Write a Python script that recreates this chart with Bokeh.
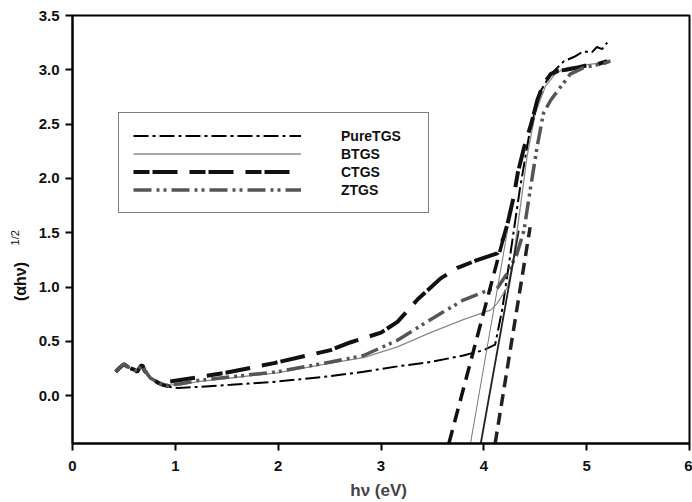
from bokeh.plotting import figure
from bokeh.models import Legend, LegendItem, LinearAxis, FixedTicker, NumeralTickFormatter
from bokeh.embed import file_html
from bokeh.resources import INLINE

FONT = "Liberation Sans"

# shared noisy start of all spectra
start_x = [0.42, 0.45, 0.50, 0.53, 0.57, 0.60, 0.63, 0.66, 0.68, 0.70, 0.72, 0.76, 0.80, 0.83, 0.88, 0.93]
start_y = [0.22, 0.25, 0.29, 0.27, 0.25, 0.24, 0.22, 0.27, 0.28, 0.23, 0.21, 0.16, 0.14, 0.12, 0.10, 0.09]

pure_x = [0.95, 1.03, 1.20, 1.54, 1.99, 2.51, 2.83, 3.16, 3.48, 3.80, 4.00, 4.11, 4.18, 4.25, 4.35, 4.45,
          4.55, 4.65, 4.78, 4.88, 4.97, 5.05, 5.10, 5.15, 5.20]
pure_y = [0.08, 0.07, 0.08, 0.10, 0.13, 0.18, 0.22, 0.27, 0.31, 0.37, 0.42, 0.47, 0.80, 1.25, 1.90, 2.45,
          2.80, 2.96, 3.08, 3.12, 3.17, 3.16, 3.21, 3.19, 3.25]

btgs_x = [0.95, 1.05, 1.22, 1.60, 1.99, 2.51, 2.83, 3.16, 3.48, 3.80, 4.07, 4.13, 4.23, 4.28, 4.35, 4.42,
          4.50, 4.60, 4.70, 4.81, 4.95, 5.10, 5.23]
btgs_y = [0.10, 0.10, 0.13, 0.17, 0.21, 0.30, 0.35, 0.45, 0.58, 0.70, 0.79, 0.85, 1.00, 1.22, 1.70, 2.20,
          2.60, 2.85, 2.97, 3.02, 3.04, 3.06, 3.09]

ctgs_x = [0.95, 1.22, 1.54, 1.96, 2.51, 2.70, 3.00, 3.16, 3.36, 3.58, 3.75, 3.94, 4.13, 4.19, 4.23, 4.29,
          4.33, 4.39, 4.46, 4.52, 4.58, 4.65, 4.72, 4.80, 4.91, 5.00, 5.10, 5.20]
ctgs_y = [0.13, 0.17, 0.22, 0.30, 0.42, 0.49, 0.58, 0.68, 0.89, 1.08, 1.18, 1.25, 1.31, 1.45, 1.58, 1.83,
          2.05, 2.28, 2.50, 2.72, 2.87, 2.96, 2.99, 3.00, 3.02, 3.04, 3.05, 3.08]

ztgs_x = [0.95, 1.05, 1.22, 1.60, 1.99, 2.51, 2.83, 3.16, 3.48, 3.80, 4.04, 4.13, 4.23, 4.32, 4.39, 4.45,
          4.52, 4.58, 4.65, 4.72, 4.84, 4.97, 5.17, 5.23]
ztgs_y = [0.10, 0.11, 0.14, 0.18, 0.22, 0.31, 0.37, 0.51, 0.70, 0.88, 0.97, 0.99, 1.13, 1.30, 1.52, 1.89,
          2.30, 2.60, 2.72, 2.81, 2.96, 3.02, 3.06, 3.08]

# extrapolated band-edge tangents
tan_c_x = [3.66, 4.19]
tan_c_y = [-0.44, 1.45]
tan_b_x = [3.87, 4.23]
tan_b_y = [-0.44, 1.52]
tan_p_x = [3.97, 4.34]
tan_p_y = [-0.44, 1.52]
tan_z_x = [4.11, 4.45]
tan_z_y = [-0.44, 1.55]

x_ticks = [0, 1, 2, 3, 4, 5, 6]
y_ticks = [0.0, 0.5, 1.0, 1.5, 2.0, 2.5, 3.0, 3.5]

EM = "\u2003"
EN = "\u2002"

p = figure(width=692, height=502, x_range=(0, 6), y_range=(-0.44, 3.5),
           output_backend="svg", toolbar_location=None,
           min_border_left=72, min_border_right=3, min_border_top=15, min_border_bottom=58)
p.xgrid.visible = False
p.ygrid.visible = False
p.outline_line_color = "black"
p.outline_line_width = 2
p.background_fill_color = "white"
p.border_fill_color = "white"

for ax in (p.xaxis[0], p.yaxis[0]):
    ax.axis_line_width = 2
    ax.axis_line_color = "black"
    ax.major_tick_line_width = 2
    ax.major_tick_out = 7
    ax.major_tick_in = 0
    ax.minor_tick_out = 0
    ax.minor_tick_in = 0
    ax.major_label_text_font = FONT
    ax.major_label_text_font_style = "bold"
    ax.major_label_text_font_size = "15px"
    ax.major_label_text_color = "#111111"

p.xaxis.ticker = FixedTicker(ticks=x_ticks)
p.yaxis.ticker = FixedTicker(ticks=y_ticks)
p.yaxis.formatter = NumeralTickFormatter(format="0.0")
p.xaxis.major_label_standoff = 10
p.yaxis.major_label_standoff = 6
p.xaxis.axis_label = "hν  (eV)"
p.xaxis.axis_label_text_font = FONT
p.xaxis.axis_label_text_font_style = "bold"
p.xaxis.axis_label_text_font_size = "17px"
p.xaxis.axis_label_standoff = 7

# y title: main part on the y axis, shifted down with trailing spaces
p.yaxis.axis_label = "(αhν)" + EM * 6 + EN
p.yaxis.axis_label_text_font = FONT
p.yaxis.axis_label_text_font_style = "bold"
p.yaxis.axis_label_text_font_size = "16px"
p.yaxis.axis_label_standoff = 7
p.yaxis.axis_label_text_color = "#111111"

# superscript "1/2" as the label of a bare outer axis, pulled in next to the main label
sup = LinearAxis(ticker=FixedTicker(ticks=[]), axis_line_color=None,
                 major_tick_out=0, major_tick_in=0, minor_tick_out=0, minor_tick_in=0,
                 major_label_standoff=0, axis_label="1/2" + EM + EN,
                 axis_label_standoff=-12, axis_label_text_font=FONT,
                 axis_label_text_font_style="normal", axis_label_text_font_size="11px",
                 axis_label_text_color="#111111")
p.add_layout(sup, "left")

r_pure = p.line(start_x + pure_x, start_y + pure_y, line_color="black", line_width=2,
                line_dash="15 4 3 4")
r_b = p.line(start_x + btgs_x, start_y + btgs_y, line_color="#8a8a8a", line_width=1.3)
r_c = p.line(start_x + ctgs_x, start_y + ctgs_y, line_color="#111111", line_width=4,
             line_dash="16 3 25 12")
r_z = p.line(start_x + ztgs_x, start_y + ztgs_y, line_color="#555555", line_width=3.5,
             line_dash="18 5 3 4 3 5")

p.line(tan_c_x, tan_c_y, line_color="#111111", line_width=3.5, line_dash="14 8")
p.line(tan_b_x, tan_b_y, line_color="#777777", line_width=1)
p.line(tan_p_x, tan_p_y, line_color="#222222", line_width=1.8)
p.line(tan_z_x, tan_z_y, line_color="#222222", line_width=3.5, line_dash="12 7")

legend = Legend(items=[LegendItem(label="PureTGS", renderers=[r_pure]),
                       LegendItem(label="BTGS", renderers=[r_b]),
                       LegendItem(label="CTGS", renderers=[r_c]),
                       LegendItem(label="ZTGS", renderers=[r_z])],
                location=(46, 230), margin=0, padding=14, spacing=1,
                glyph_width=168, glyph_height=17, label_height=17, label_width=73,
                label_standoff=40,
                label_text_font=FONT, label_text_font_style="bold", label_text_font_size="14px",
                label_text_color="#111111",
                border_line_color="black", border_line_width=1.5,
                background_fill_alpha=1.0)
p.add_layout(legend, "center")

open("out.html", "w").write(file_html(p, INLINE))
